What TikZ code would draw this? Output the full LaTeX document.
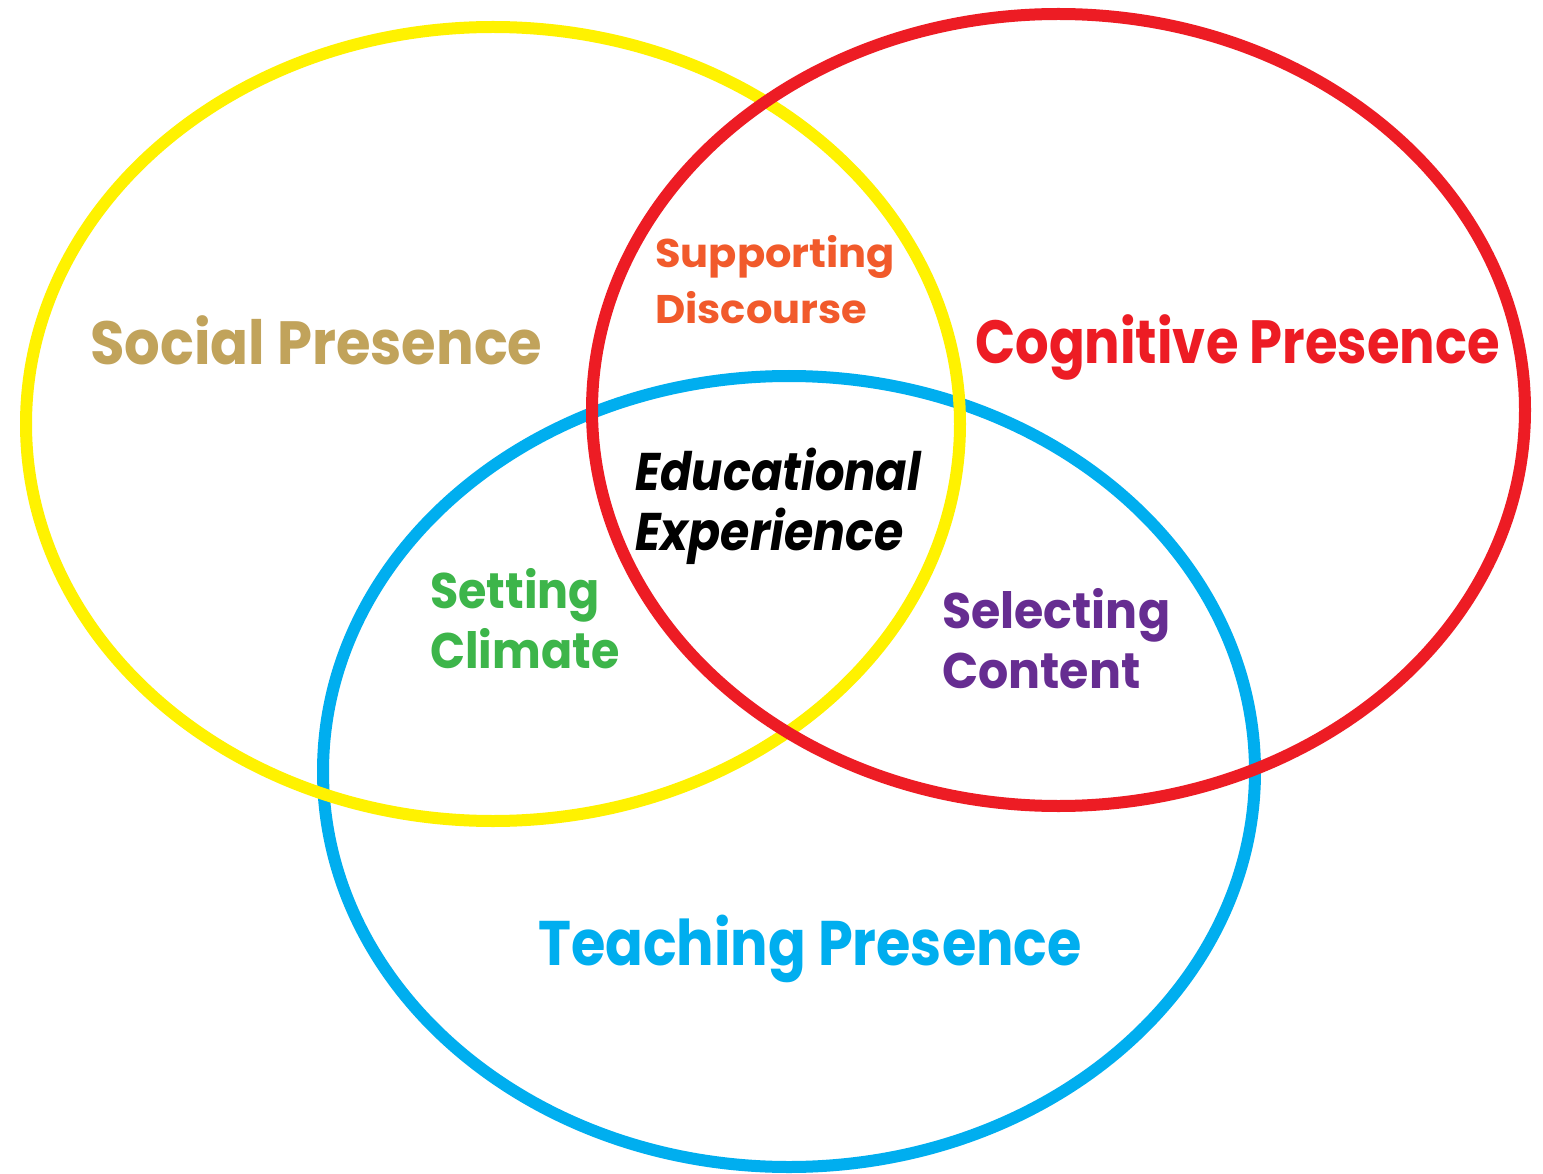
\documentclass[tikz,border=0pt]{standalone}
\usepackage{graphicx}
\usepackage{fontspec}
\setmainfont{Poppins}
\definecolor{cyel}{HTML}{FFF200}
\definecolor{cred}{HTML}{ED1C24}
\definecolor{cblue}{HTML}{00AEEF}
\definecolor{ctan}{HTML}{C1A35B}
\definecolor{corange}{HTML}{F15A2B}
\definecolor{cgreen}{HTML}{3DB54A}
\definecolor{cpurple}{HTML}{662D91}
\tikzset{
  ring/.style={line width=12pt},
  lab/.style={anchor=base west, inner sep=0pt, font=\bfseries},
}
\begin{document}
\begin{tikzpicture}[x=1pt,y=-1pt]
\useasboundingbox (0,0) rectangle (1543,1174);
\fill[white] (0,0) rectangle (1543,1174);
\draw[ring,cblue] (789,771.5) ellipse [x radius=466, y radius=395.5];
\draw[ring,cyel] (493,424) ellipse [x radius=467, y radius=397];
\draw[ring,cred] (1058.5,410) ellipse [x radius=466.5, y radius=396];
\node[lab,text=ctan,font=\fontsize{61}{61}\bfseries\selectfont] (social) at (90,365) {\scalebox{0.918}[1]{Social Presence}};
\node[lab,text=cred,font=\fontsize{61}{61}\bfseries\selectfont] (cog) at (975,363) {\scalebox{0.865}[1]{Cognitive Presence}};
\node[lab,text=cblue,font=\fontsize{63}{63}\bfseries\selectfont] (teach) at (538,965) {\scalebox{0.884}[1]{Teaching Presence}};
\node[lab,text=corange,font=\fontsize{40}{40}\bfseries\selectfont] (sup1) at (655,268) {\scalebox{1.04}[1]{Supporting}};
\node[lab,text=corange,font=\fontsize{40}{40}\bfseries\selectfont] (sup2) at (655,324) {\scalebox{1.04}[1]{Discourse}};
\node[lab,text=black,font=\fontsize{53}{53}\bfseries\itshape\selectfont] (edu1) at (635,490) {\scalebox{0.875}[1]{Educational}};
\node[lab,text=black,font=\fontsize{53}{53}\bfseries\itshape\selectfont] (edu2) at (635,550) {\scalebox{0.895}[1]{Experience}};
\node[lab,text=cgreen,font=\fontsize{50}{50}\bfseries\selectfont] (set1) at (430,608) {\scalebox{0.92}[1]{Setting}};
\node[lab,text=cgreen,font=\fontsize{50}{50}\bfseries\selectfont] (set2) at (430,668) {\scalebox{0.92}[1]{Climate}};
\node[lab,text=cpurple,font=\fontsize{50}{50}\bfseries\selectfont] (sel1) at (942,628) {\scalebox{0.95}[1]{Selecting}};
\node[lab,text=cpurple,font=\fontsize{50}{50}\bfseries\selectfont] (sel2) at (942,688) {\scalebox{0.95}[1]{Content}};
\end{tikzpicture}
\end{document}
